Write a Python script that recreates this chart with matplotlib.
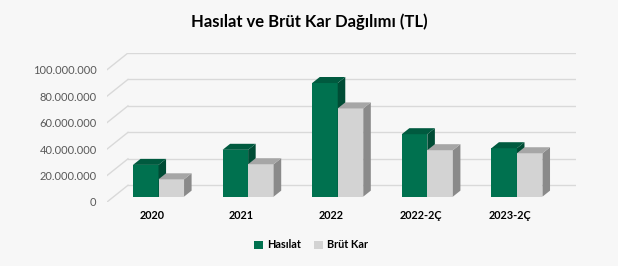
import matplotlib.pyplot as plt
from matplotlib.patches import Polygon, Patch

categories = ['2020', '2021', '2022', '2022-2Ç', '2023-2Ç']
hasilat = [24.0e6, 35.4e6, 85.9e6, 47.2e6, 36.6e6]
brut_kar = [13.1e6, 24.5e6, 66.7e6, 35.1e6, 32.8e6]
yticks = [0, 20e6, 40e6, 60e6, 80e6, 100e6]

plt.rcParams['font.family'] = ['Lato', 'DejaVu Sans']

W, H = 618, 266
bg = '#f7f7f7'
fig = plt.figure(figsize=(W / 100, H / 100), dpi=100, facecolor=bg)

# axes box in pixels: front floor at y=202, back 100M line at y=53
left, right, bottom, top = 107, 576, 202, 53
ax = fig.add_axes([left / W, (H - bottom) / H, (right - left) / W, (bottom - top) / H])
ax.set_facecolor(bg)

# depth of the 3D box in data units
Dx = 0.234
Dy = 12.65e6
ax.set_xlim(-0.5, len(categories) - 0.5 + Dx)
ax.set_ylim(0, 100e6 + Dy)

grid_c = '#d9d9d9'
x0, x1 = -0.5, len(categories) - 0.5
for v in yticks:
    ax.plot([x0 + Dx, x1 + Dx], [v + Dy, v + Dy], color=grid_c, lw=1.0, zorder=1)
    ax.plot([x0, x0 + Dx], [v, v + Dy], color=grid_c, lw=1.0, zorder=1)

bw = 0.285
f0, fd = 0.32, 0.36
ox, oy = f0 * Dx, f0 * Dy
bx, by = fd * Dx, fd * Dy

series = [
    (hasilat, -bw, '#00714f', '#004c35', '#005a3f', 'Hasılat'),
    (brut_kar, 0.0, '#d3d3d3', '#8a8a8a', '#a6a6a6', 'Brüt Kar'),
]

for i in range(len(categories)):
    for vals, off, c_front, c_side, c_top, _ in series:
        v = vals[i]
        xl = i + off + ox
        xr = xl + bw
        ax.bar(xl, v, width=bw, bottom=oy, align='edge', color=c_front,
               edgecolor='none', zorder=3)
        side = [(xr, oy), (xr + bx, oy + by), (xr + bx, oy + by + v), (xr, oy + v)]
        topf = [(xl, oy + v), (xr, oy + v), (xr + bx, oy + v + by), (xl + bx, oy + v + by)]
        ax.add_patch(Polygon(side, closed=True, facecolor=c_side, edgecolor='none', zorder=3))
        ax.add_patch(Polygon(topf, closed=True, facecolor=c_top, edgecolor='none', zorder=3))

for s in ax.spines.values():
    s.set_visible(False)

ax.set_yticks(yticks)
ax.set_yticklabels([f'{v:,.0f}'.replace(',', '.') for v in yticks])
ax.tick_params(axis='y', length=0, pad=7.5, labelsize=8, labelcolor='#595959')

ax.set_xticks(range(len(categories)))
ax.set_xticklabels(categories, fontweight='bold')
ax.tick_params(axis='x', length=0, pad=6, labelsize=7.8, labelcolor='#000000')

fig.text(309 / W, 1 - 22 / H, 'Hasılat ve Brüt Kar Dağılımı (TL)', ha='center', va='center',
         fontsize=12, fontweight='bold', color='#000000')

handles = [Patch(facecolor=s[2], edgecolor='none', label=s[5]) for s in series]
fig.legend(handles=handles, loc='center', bbox_to_anchor=(311 / W, 1 - 245 / H), ncol=2,
           frameon=False, prop={'weight': 'bold', 'size': 7.8}, handlelength=0.8,
           handleheight=0.8, handletextpad=0.4, columnspacing=1.2)

fig.savefig('out.png', dpi=100, facecolor=bg)
